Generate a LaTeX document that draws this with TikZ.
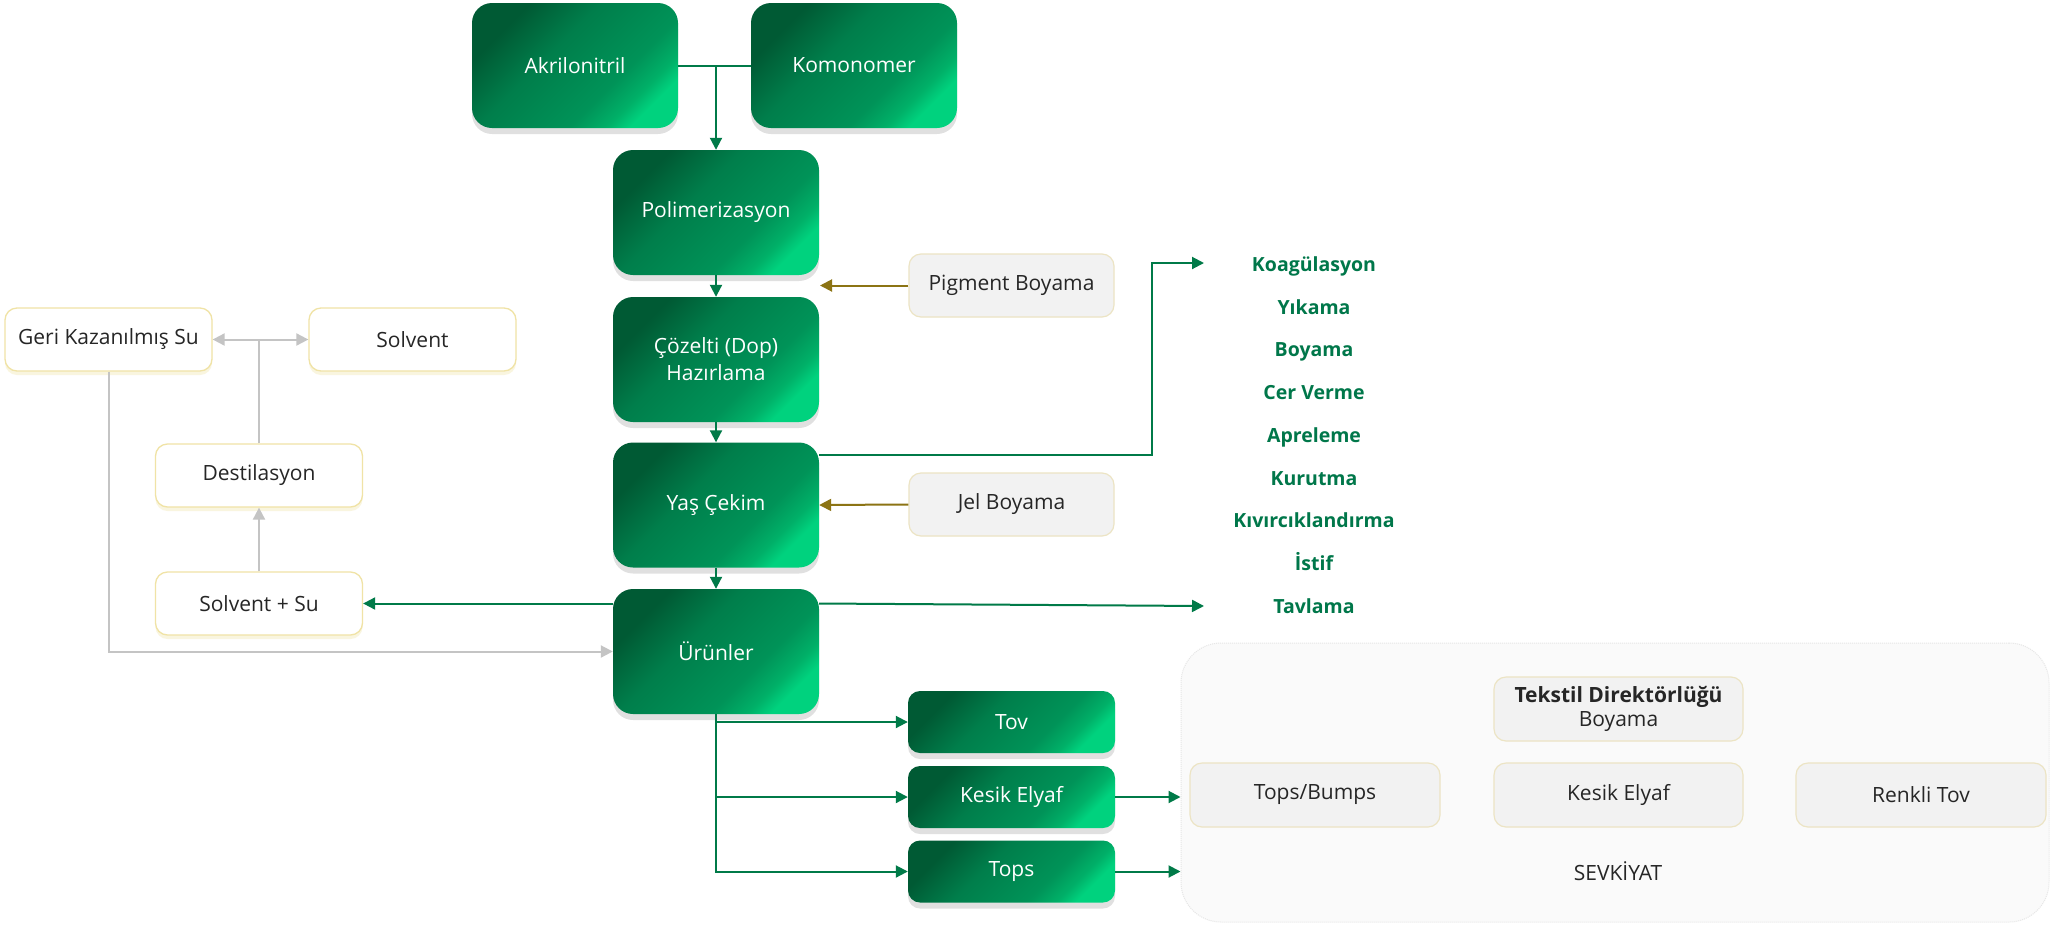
\documentclass[tikz,border=0pt]{standalone}
\usepackage{fontspec}
\setmainfont{Open Sans}
\usetikzlibrary{arrows.meta,shadows,calc}
\definecolor{gdark}{HTML}{005A34}
\definecolor{gmid}{HTML}{007E4B}
\definecolor{gmid2}{HTML}{009358}
\definecolor{gmid3}{HTML}{00B068}
\definecolor{gbright}{HTML}{00D27E}
\definecolor{lgreen}{HTML}{007A48}
\definecolor{olive}{HTML}{8C7414}
\definecolor{lgrayline}{HTML}{C4C4C4}
\definecolor{tdark}{HTML}{262626}
\definecolor{wborder}{HTML}{F0E3A6}
\definecolor{lfill}{HTML}{F2F2F2}
\definecolor{lborder}{HTML}{ECE4C4}
\definecolor{cfill}{HTML}{FAFAFA}
\definecolor{cborder}{HTML}{E6E6E6}
\definecolor{listgreen}{HTML}{00774A}
\pgfdeclarehorizontalshading{gshade}{100bp}{color(0bp)=(gdark); color(27bp)=(gdark); color(42bp)=(gmid); color(62bp)=(gmid2); color(70bp)=(gmid3); color(75bp)=(gbright); color(100bp)=(gbright)}
\begin{document}
\begin{tikzpicture}[x=1pt,y=-1pt,
  ftxt/.style={font=\fontsize{21}{27}\selectfont},
  gbox/.style={rounded corners=20pt, shading=gshade, shading angle=-45, text=white,
    minimum width=206pt, minimum height=125pt, inner sep=0pt, align=center, ftxt,
    drop shadow={shadow xshift=0pt, shadow yshift=-6pt, opacity=0.12, fill=black}},
  gsmall/.style={gbox, rounded corners=12pt, minimum width=207pt, minimum height=62pt},
  wbox/.style={rounded corners=12pt, fill=white, draw=wborder, line width=1.3pt,
    minimum width=207pt, minimum height=63pt, inner sep=0pt, text=tdark, ftxt, align=center,
    drop shadow={shadow xshift=0pt, shadow yshift=-4pt, opacity=0.35, fill=wborder, draw=none}},
  lbox/.style={rounded corners=12pt, fill=lfill, draw=lborder, line width=1.2pt,
    minimum width=205pt, minimum height=63pt, inner sep=0pt, text=tdark, ftxt, align=center},
  ltxt/.style={text=listgreen, font=\fontsize{19.5}{22}\selectfont\bfseries, inner sep=0pt,
    text height=14pt, text depth=0pt},
  garrow/.style={draw=lgreen, line width=2pt, -{Triangle[length=12pt,width=12pt]}},
  gline/.style={draw=lgreen, line width=2pt},
  oarrow/.style={draw=olive, line width=2pt, -{Triangle[length=12pt,width=12pt]}},
  grarrow/.style={draw=lgrayline, line width=2pt, -{Triangle[length=12pt,width=12pt]}},
  grline/.style={draw=lgrayline, line width=2pt}
]
\useasboundingbox[fill=white] (0,0) rectangle (2051,924);

% container
\node[draw=cborder, densely dotted, fill=cfill, rounded corners=40pt, line width=1pt,
  minimum width=868pt, minimum height=279pt, inner sep=0pt] (sevk) at (1615,782.5) {};

% main green chain
\node[gbox] (akr) at (575,65.5) {Akrilonitril};
\node[gbox] (kom) at (854,65.5) {Komonomer};
\node[gbox] (pol) at (716,212.5) {Polimerizasyon};
\node[gbox] (coz) at (716,359.5) {Çözelti (Dop)\\Hazırlama};
\node[gbox] (yas) at (716,505) {Yaş Çekim};
\node[gbox] (urun) at (716,651.5) {Ürünler};

\node[gsmall] (tov) at (1011.5,722) {Tov};
\node[gsmall] (kes) at (1011.5,797) {Kesik Elyaf};
\node[gsmall] (tops) at (1011.5,871.5) {Tops};

\node[lbox] (pig) at (1011.5,285.5) {Pigment Boyama};
\node[lbox] (jel) at (1011.5,504.5) {Jel Boyama};

% left recovery loop
\node[wbox] (geri) at (108.5,339.5) {Geri Kazanılmış Su};
\node[wbox] (solv) at (412.5,339.5) {Solvent};
\node[wbox] (dest) at (259,475.5) {Destilasyon};
\node[wbox] (ssu) at (259,603.5) {Solvent + Su};

% list
\node[ltxt] (l1) at (1314,264) {Koagülasyon};
\node[ltxt] (l2) at (1314,307) {Yıkama};
\node[ltxt] (l3) at (1314,349.5) {Boyama};
\node[ltxt] (l4) at (1314,392) {Cer Verme};
\node[ltxt] (l5) at (1314,435) {Apreleme};
\node[ltxt] (l6) at (1314,478) {Kurutma};
\node[ltxt] (l7) at (1314,520.5) {Kıvırcıklandırma};
\node[ltxt] (l8) at (1314,563) {İstif};
\node[ltxt] (l9) at (1314,606) {Tavlama};
\coordinate (kin) at (1204,263);
\coordinate (tin) at (1204,606);
\coordinate (pigtip) at (820,285.5);

% shipment boxes
\node[lbox, minimum width=249pt, minimum height=64pt] (tek) at (1618.5,709)
  {\textbf{Tekstil Direktörlüğü}\\[-3pt]Boyama};
\node[lbox, minimum width=250pt, minimum height=64pt] (topsb) at (1315,795) {Tops/Bumps};
\node[lbox, minimum width=249pt, minimum height=64pt] (kes2) at (1618.5,795) {Kesik Elyaf};
\node[lbox, minimum width=250pt, minimum height=64pt] (renk) at (1921,795) {Renkli Tov};
\node[text=tdark, ftxt, inner sep=0pt] (sevkt) at (1618,871) {SEVKİYAT};

% connectors
\draw[gline] (akr.east) -- (kom.west);
\draw[garrow] (akr.east -| pol.north) -- (pol.north);
\draw[garrow] (pol.south) -- (coz.north);
\draw[garrow] (coz.south) -- (yas.north);
\draw[garrow] (yas.south) -- (urun.north);
\draw[oarrow] (pig.west) -- (pigtip);
\draw[oarrow] (jel.west) -- (yas.east);
\draw[garrow] ([yshift=50pt]yas.east) -- ++(333,0) |- (kin);
\draw[garrow] ([yshift=48pt]urun.east) -- (tin);
\draw[garrow] (ssu.east -| urun.west) -- (ssu.east);
\draw[garrow] (urun.south) |- (tov.west);
\draw[garrow] (urun.south) |- (kes.west);
\draw[garrow] (urun.south) |- (tops.west);
\draw[garrow] (kes.east) -- (kes.east -| sevk.west);
\draw[garrow] (tops.east) -- (tops.east -| sevk.west);

\draw[grarrow] (ssu.north) -- (dest.south);
\draw[grline] (dest.north) -- (dest.north |- geri.east);
\draw[grline, {Triangle[length=12pt,width=12pt]}-{Triangle[length=12pt,width=12pt]}] (geri.east) -- (solv.west);
\draw[grarrow] (geri.south) -- (geri.south |- urun.west) -- (urun.west);
\end{tikzpicture}
\end{document}
